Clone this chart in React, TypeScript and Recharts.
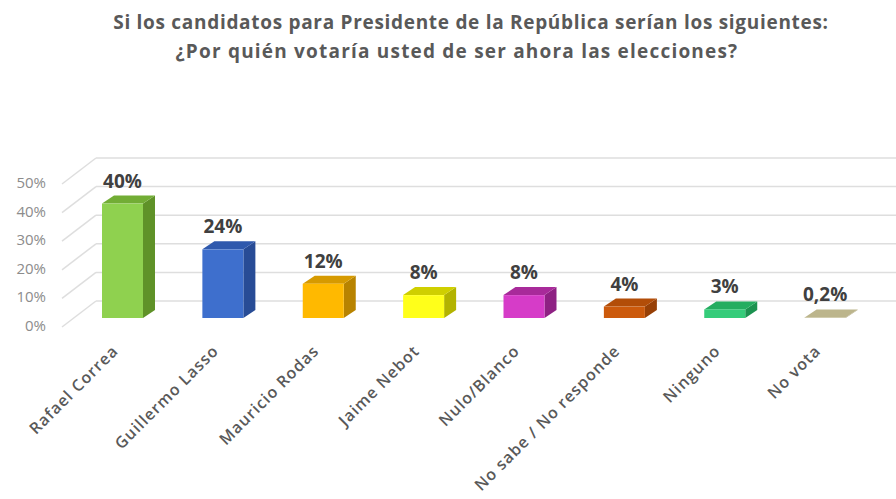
import React from 'react';
import { BarChart, Bar, XAxis, YAxis, CartesianGrid, LabelList } from 'recharts';

// Encuesta: intención de voto presidencial
const categories = [
  'Rafael Correa',
  'Guillermo Lasso',
  'Mauricio Rodas',
  'Jaime Nebot',
  'Nulo/Blanco',
  'No sabe / No responde',
  'Ninguno',
  'No vota',
];
const values = [40, 24, 12, 8, 8, 4, 3, 0.2];
const yTicks = [0, 10, 20, 30, 40, 50];
const titleLines = [
  'Si los candidatos para Presidente de la República serían los siguientes:',
  '¿Por quién votaría usted de ser ahora las elecciones?',
];

// front / top / side shades for each bar
const faceColors = [
  ['#8fd14f', '#72ad35', '#5f9228'],
  ['#3e6fcd', '#2f59ad', '#284c96'],
  ['#ffb900', '#d69a00', '#b88300'],
  ['#ffff1a', '#cfcf00', '#b3b300'],
  ['#d63cc8', '#a82a9a', '#8e2183'],
  ['#cc5a0c', '#b24d08', '#974006'],
  ['#35cc7a', '#24ad60', '#1c9250'],
  ['#c9c29c', '#bcb58c', '#a8a17a'],
];

const data = categories.map((name, i) => ({ name, value: values[i] }));

const FONT = '"Open Sans", "Noto Sans", sans-serif';
const DX = 12; // bar depth
const DY = -8;

const Bar3D = (props: any) => {
  const { x, y, width, height, index } = props;
  const [front, top, side] = faceColors[index];
  const h = Math.max(height, 0.5);
  return (
    <g>
      <polygon
        points={`${x + width},${y} ${x + width + DX},${y + DY} ${x + width + DX},${y + h + DY} ${x + width},${y + h}`}
        fill={side}
      />
      <polygon
        points={`${x},${y} ${x + DX},${y + DY} ${x + width + DX},${y + DY} ${x + width},${y}`}
        fill={top}
      />
      <rect x={x} y={y} width={width} height={h} fill={front} />
    </g>
  );
};

// back wall lines + left wall diagonals
const GridLine = (p: any) => {
  const y = p.y1;
  return (
    <g key={`g-${y}`}>
      <line x1={62} y1={y + 9} x2={96} y2={y - 17} stroke="#dedede" strokeWidth={1.5} />
      <line x1={96} y1={y - 17} x2={896} y2={y - 17} stroke="#dedede" strokeWidth={1.5} />
    </g>
  );
};

const YTick = (props: any) => {
  const { y, payload } = props;
  return (
    <text x={46} y={y + 9} textAnchor="end" dominantBaseline="middle" fontFamily={FONT} fontSize={15} fill="#8c8c8c">
      {`${payload.value}%`}
    </text>
  );
};

const XTick = (props: any) => {
  const { x, payload } = props;
  const ax = x - 3;
  const ay = 352;
  return (
    <text
      x={ax}
      y={ay}
      textAnchor="end"
      transform={`rotate(-45, ${ax}, ${ay})`}
      fontFamily={FONT}
      fontSize={16}
      fontWeight={600}
      letterSpacing={1}
      fill="#595959"
    >
      {payload.value}
    </text>
  );
};

const ValueLabel = (props: any) => {
  const { x, y, width, value } = props;
  return (
    <text
      x={x + width / 2}
      y={y - 16}
      textAnchor="middle"
      fontFamily={FONT}
      fontSize={19}
      fontWeight={700}
      fill="#404040"
    >
      {`${String(value).replace('.', ',')}%`}
    </text>
  );
};

export default function App() {
  return (
    <div style={{ position: 'absolute', left: 0, top: 0, width: 896, height: 499, background: '#fff' }}>
      {titleLines.map((t, i) => (
        <div
          key={i}
          style={{
            position: 'absolute',
            left: 0,
            width: i === 0 ? 942 : 914,
            top: i === 0 ? 9 : 38,
            textAlign: 'center',
            fontFamily: FONT,
            fontWeight: 700,
            fontSize: 19,
            letterSpacing: i === 0 ? 0.7 : 1.2,
            color: '#595959',
            whiteSpace: 'nowrap',
          }}
        >
          {t}
        </div>
      ))}
      <BarChart
        width={896}
        height={499}
        data={data}
        margin={{ top: 175, right: 21, left: 0, bottom: 0 }}
        barCategoryGap={0}
      >
        <CartesianGrid vertical={false} horizontal={GridLine} />
        <YAxis
          width={72}
          domain={[0, 50]}
          ticks={yTicks}
          axisLine={false}
          tickLine={false}
          tick={YTick}
        />
        <XAxis
          dataKey="name"
          height={181}
          interval={0}
          axisLine={false}
          tickLine={false}
          tick={XTick}
        />
        <Bar dataKey="value" barSize={41} shape={Bar3D} isAnimationActive={false}>
          <LabelList dataKey="value" content={ValueLabel} />
        </Bar>
      </BarChart>
    </div>
  );
}
